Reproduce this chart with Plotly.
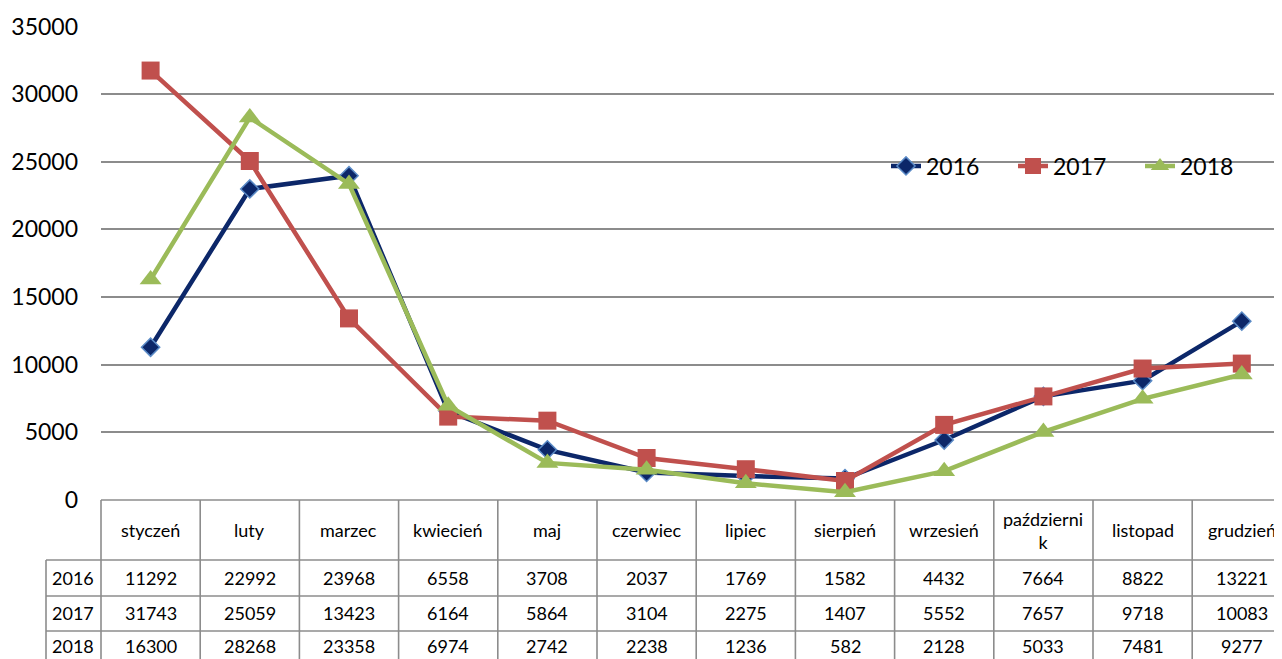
import plotly.graph_objects as go

# data
months = ["styczeń", "luty", "marzec", "kwiecień", "maj", "czerwiec",
          "lipiec", "sierpień", "wrzesień", "październi<br>k", "listopad", "grudzień"]
years = ["2016", "2017", "2018"]
v2016 = [11292, 22992, 23968, 6558, 3708, 2037, 1769, 1582, 4432, 7664, 8822, 13221]
v2017 = [31743, 25059, 13423, 6164, 5864, 3104, 2275, 1407, 5552, 7657, 9718, 10083]
v2018 = [16300, 28268, 23358, 6974, 2742, 2238, 1236, 582, 2128, 5033, 7481, 9277]
yticks = [0, 5000, 10000, 15000, 20000, 25000, 30000, 35000]

# the page body has an 8px margin, so the figure is shrunk and shifted by it
OFF = 8
W, H = 1282 - OFF, 659 - OFF
FONT = "Lato"
plot_left = 101      # px (window coords), left edge of plot / table
col_w = 99.2         # px per category
y0_px, ytop_px = 500, 26.5

def px(x):
    return (x - OFF) / W

def py(y):
    return 1 - (y - OFF) / H

x_idx = list(range(len(months)))
styles = [
    dict(color="#0C2769", symbol="diamond", size=14, edge="#5A8AC6", edgew=1.5),
    dict(color="#C0504D", symbol="square", size=18, edge="#C0504D", edgew=0),
    dict(color="#9BBB59", symbol="triangle-up", size=19, edge="#9BBB59", edgew=0),
]

fig = go.Figure()
for name, vals, st in zip(years, [v2016, v2017, v2018], styles):
    fig.add_trace(go.Scatter(
        x=x_idx, y=vals, name=name, mode="lines+markers",
        line=dict(color=st["color"], width=4.5),
        marker=dict(symbol=st["symbol"], size=st["size"], color=st["color"],
                    line=dict(color=st["edge"], width=st["edgew"])),
        cliponaxis=False,
    ))

# data table below the chart
grid_c = "#8C8C8C"
shapes = []
row_lines = [560, 596, 631]
table_bottom = 665
shapes.append(dict(type="line", xref="paper", yref="paper",
                   x0=px(plot_left), x1=1.02, y0=py(y0_px), y1=py(y0_px),
                   line=dict(color=grid_c, width=1.6)))
for r in row_lines:
    shapes.append(dict(type="line", xref="paper", yref="paper",
                       x0=px(46), x1=1.02, y0=py(r), y1=py(r),
                       line=dict(color=grid_c, width=1.6)))
shapes.append(dict(type="line", xref="paper", yref="paper",
                   x0=px(46), x1=px(46), y0=py(row_lines[0]), y1=py(table_bottom),
                   line=dict(color=grid_c, width=1.6)))
for k in range(len(months) + 1):
    xx = plot_left + k * col_w
    if xx > 1290:
        continue
    shapes.append(dict(type="line", xref="paper", yref="paper",
                       x0=px(xx), x1=px(xx), y0=py(y0_px), y1=py(table_bottom),
                       line=dict(color=grid_c, width=1.6)))

annotations = []
cell_font = dict(family=FONT, size=18, color="#000000")
for i, m in enumerate(months):
    cx = px(plot_left + (i + 0.5) * col_w)
    annotations.append(dict(text=m, x=cx, y=py(530), xref="paper", yref="paper",
                            showarrow=False, font=cell_font, xanchor="center",
                            yanchor="middle"))
row_centers = [578, 613, 646]
for yr, vals, rc in zip(years, [v2016, v2017, v2018], row_centers):
    annotations.append(dict(text=yr, x=px(73), y=py(rc), xref="paper", yref="paper",
                            showarrow=False, font=cell_font, xanchor="center",
                            yanchor="middle"))
    for i, v in enumerate(vals):
        cx = px(plot_left + (i + 0.5) * col_w)
        annotations.append(dict(text=str(v), x=cx, y=py(rc), xref="paper",
                                yref="paper", showarrow=False, font=cell_font,
                                xanchor="center", yanchor="middle"))

x_span = (1282 - plot_left) / col_w
fig.update_layout(
    width=W, height=H,
    margin=dict(l=0, r=0, t=0, b=0, autoexpand=False),
    paper_bgcolor="white", plot_bgcolor="white",
    font=dict(family=FONT, color="#000000"),
    xaxis=dict(domain=[px(plot_left), 1], range=[-0.5, -0.5 + x_span],
               showticklabels=False, showgrid=False, zeroline=False,
               showline=False, automargin=False),
    yaxis=dict(domain=[py(y0_px), py(ytop_px)], range=[0, 35000],
               tickvals=yticks, ticktext=[str(t) for t in yticks],
               tickfont=dict(family=FONT, size=23),
               showgrid=True, gridcolor="#8C8C8C", gridwidth=1.5,
               zeroline=False, showline=False, ticks="",
               ticklabelstandoff=22, automargin=False),
    showlegend=True,
    legend=dict(orientation="h", x=px(886), y=py(166), xanchor="left",
                yanchor="middle", bgcolor="rgba(0,0,0,0)",
                font=dict(family=FONT, size=23), itemsizing="trace",
                traceorder="normal", entrywidth=82, entrywidthmode="pixels"),
    shapes=shapes,
    annotations=annotations,
)

fig.write_html("out.html")
